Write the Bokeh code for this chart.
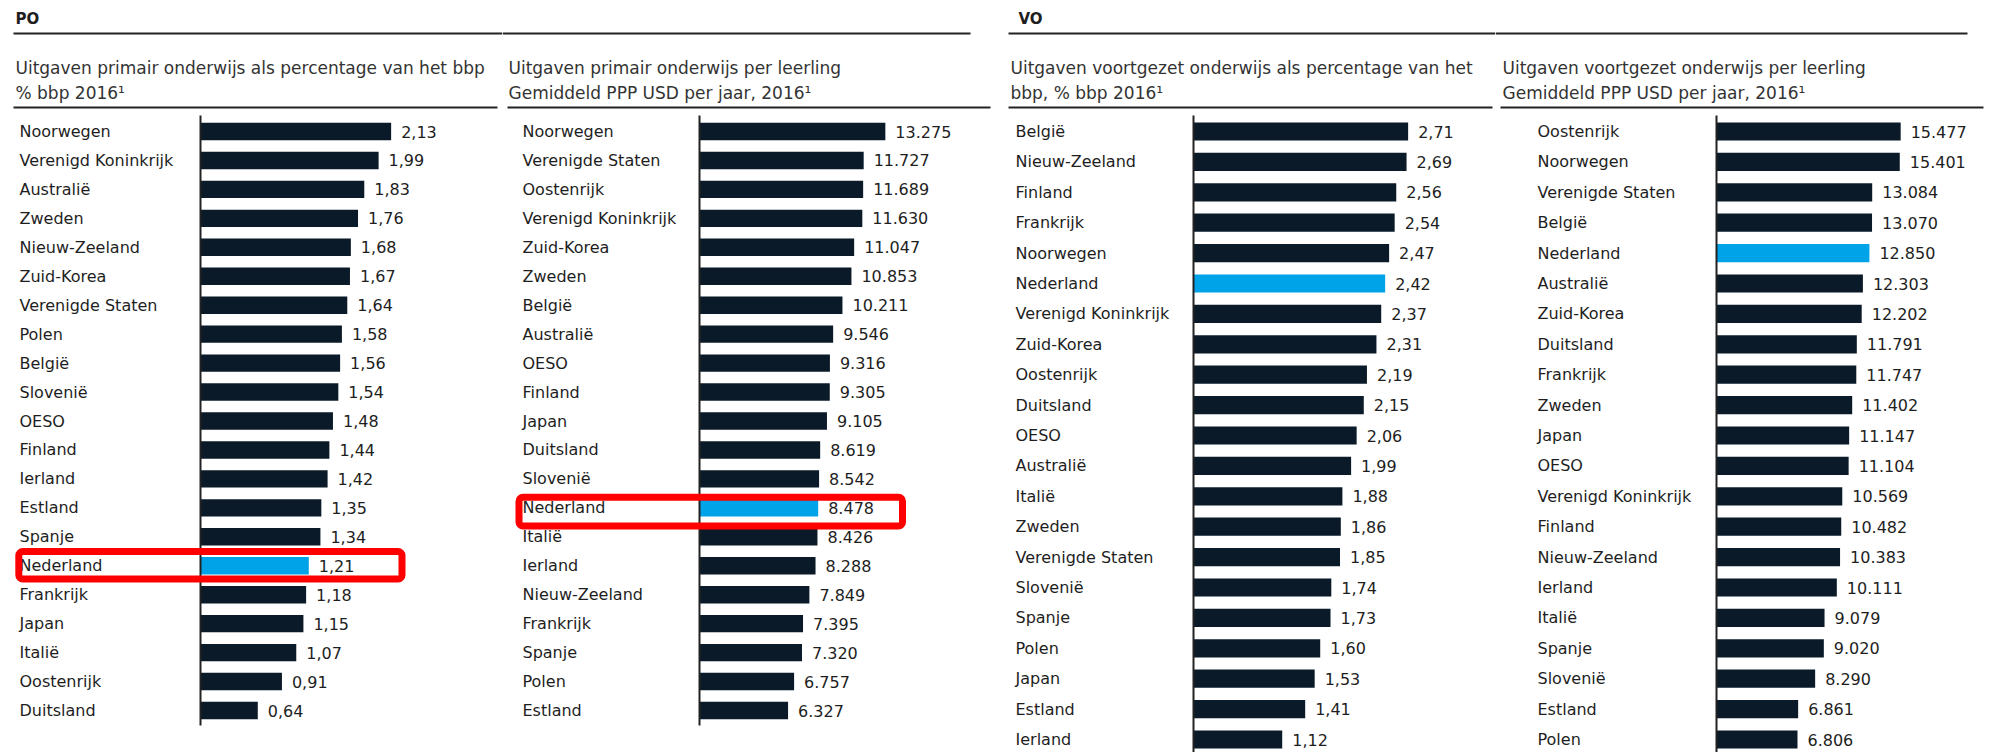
from bokeh.plotting import figure
from bokeh.models import Range1d, BoxAnnotation, ColumnDataSource
from bokeh.layouts import row
from bokeh.embed import file_html
from bokeh.resources import INLINE
from bokeh.core.properties import value

# ---------------- data ----------------
po_pct_countries = ["Noorwegen", "Verenigd Koninkrijk", "Australië", "Zweden", "Nieuw-Zeeland",
                    "Zuid-Korea", "Verenigde Staten", "Polen", "België", "Slovenië", "OESO",
                    "Finland", "Ierland", "Estland", "Spanje", "Nederland", "Frankrijk", "Japan",
                    "Italië", "Oostenrijk", "Duitsland"]
po_pct_values = [2.13, 1.99, 1.83, 1.76, 1.68, 1.67, 1.64, 1.58, 1.56, 1.54, 1.48,
                 1.44, 1.42, 1.35, 1.34, 1.21, 1.18, 1.15, 1.07, 0.91, 0.64]

po_usd_countries = ["Noorwegen", "Verenigde Staten", "Oostenrijk", "Verenigd Koninkrijk",
                    "Zuid-Korea", "Zweden", "België", "Australië", "OESO", "Finland", "Japan",
                    "Duitsland", "Slovenië", "Nederland", "Italië", "Ierland", "Nieuw-Zeeland",
                    "Frankrijk", "Spanje", "Polen", "Estland"]
po_usd_values = [13275, 11727, 11689, 11630, 11047, 10853, 10211, 9546, 9316, 9305, 9105,
                 8619, 8542, 8478, 8426, 8288, 7849, 7395, 7320, 6757, 6327]

vo_pct_countries = ["België", "Nieuw-Zeeland", "Finland", "Frankrijk", "Noorwegen", "Nederland",
                    "Verenigd Koninkrijk", "Zuid-Korea", "Oostenrijk", "Duitsland", "OESO",
                    "Australië", "Italië", "Zweden", "Verenigde Staten", "Slovenië", "Spanje",
                    "Polen", "Japan", "Estland", "Ierland"]
vo_pct_values = [2.71, 2.69, 2.56, 2.54, 2.47, 2.42, 2.37, 2.31, 2.19, 2.15, 2.06,
                 1.99, 1.88, 1.86, 1.85, 1.74, 1.73, 1.60, 1.53, 1.41, 1.12]

vo_usd_countries = ["Oostenrijk", "Noorwegen", "Verenigde Staten", "België", "Nederland",
                    "Australië", "Zuid-Korea", "Duitsland", "Frankrijk", "Zweden", "Japan", "OESO",
                    "Verenigd Koninkrijk", "Finland", "Nieuw-Zeeland", "Ierland", "Italië",
                    "Spanje", "Slovenië", "Estland", "Polen"]
vo_usd_values = [15477, 15401, 13084, 13070, 12850, 12303, 12202, 11791, 11747, 11402, 11147,
                 11104, 10569, 10482, 10383, 10111, 9079, 9020, 8290, 6861, 6806]

section_titles = ["PO", "VO"]
subtitles = [
    ["Uitgaven primair onderwijs als percentage van het bbp", "% bbp 2016¹"],
    ["Uitgaven primair onderwijs per leerling", "Gemiddeld PPP USD per jaar, 2016¹"],
    ["Uitgaven voortgezet onderwijs als percentage van het", "bbp, % bbp 2016¹"],
    ["Uitgaven voortgezet onderwijs per leerling", "Gemiddeld PPP USD per jaar, 2016¹"],
]
highlight = "Nederland"

# ---------------- style ----------------
H = 752
FONT = value("DejaVu Sans")
BAR = "#0B1A28"
BLUE = "#00A2E8"
TXT = "#1E1E1E"
SUB = "#333333"
RULE = "#222222"
RED = "#FF0000"


def fmt_pct(v):
    return f"{v:.2f}".replace(".", ",")


def fmt_usd(v):
    return f"{v:,}".replace(",", ".")


def build(width, countries, values, fmt, axis_px, scale, pitch, label_px, header,
          subtitle, sub_x, top_rule, sub_rule, axis_end, box=None, y0=131):
    # helpers converting panel pixel positions into the panel's data space
    def dx(px):
        return (px - axis_px) / scale

    def dy(py):
        return (py - y0) / pitch

    p = figure(width=width, height=H, output_backend="svg", toolbar_location=None,
               x_range=Range1d(dx(0), dx(width)), y_range=Range1d(dy(H), dy(0)),
               x_axis_location=None, y_axis_location=None, min_border=0,
               outline_line_color=None, background_fill_color="white",
               border_fill_color="white")
    p.grid.visible = False

    idx = list(range(len(countries)))
    src = ColumnDataSource(dict(
        y=idx, v=values, c=countries, t=[fmt(v) for v in values],
        col=[BLUE if c == highlight else BAR for c in countries]))

    p.hbar(y="y", left=0, right="v", height=0.6, fill_color="col", line_color=None, source=src)
    p.text(x=dx(label_px), y="y", text="c", source=src, text_align="left",
           text_baseline="middle", text_font=FONT, text_font_size="16px", text_color=TXT)
    p.text(x="v", y="y", text="t", source=src, x_offset=10, text_align="left",
           text_baseline="middle", text_font=FONT, text_font_size="16px", text_color=TXT)

    # vertical axis line
    p.segment(x0=0, x1=0, y0=dy(115), y1=dy(axis_end), line_color=RULE, line_width=2)
    # horizontal rules
    p.segment(x0=dx(top_rule[0]), x1=dx(top_rule[1]), y0=dy(33), y1=dy(33),
              line_color=RULE, line_width=2)
    p.segment(x0=dx(sub_rule[0]), x1=dx(sub_rule[1]), y0=dy(107), y1=dy(107),
              line_color=RULE, line_width=2)
    # section header
    if header:
        p.text(x=[dx(15)], y=[dy(18)], text=[header], text_align="left", text_baseline="middle",
               text_font=FONT, text_font_size="15px", text_font_style="bold", text_color=TXT)
    # subtitle (two lines)
    p.text(x=[dx(sub_x), dx(sub_x)], y=[dy(67), dy(92)], text=subtitle, text_align="left",
           text_baseline="middle", text_font=FONT, text_font_size="17px", text_color=SUB)
    # red highlight box
    if box is not None:
        l, r, t, b = box
        p.add_layout(BoxAnnotation(left=dx(l), right=dx(r), top=dy(t), bottom=dy(b),
                                   fill_alpha=0, line_color=RED, line_width=7,
                                   line_alpha=1, border_radius=4))
    return p


p1 = build(502, po_pct_countries, po_pct_values, fmt_pct, 200, 89.5, 28.95, 19,
           section_titles[0], subtitles[0], 15, (13, 502), (13, 497), 725,
           box=(18.3, 401.5, 551, 578.5))
p2 = build(501, po_usd_countries, po_usd_values, fmt_usd, 197, 0.0140, 28.95, 20,
           None, subtitles[1], 6, (0, 468), (5, 488), 725,
           box=(16.5, 400, 496.7, 525.5))
p3 = build(492, vo_pct_countries, vo_pct_values, fmt_pct, 190, 79.2, 30.4, 12,
           section_titles[1], subtitles[2], 7, (5, 492), (5, 489), 752)
p4 = build(500, vo_usd_countries, vo_usd_values, fmt_usd, 221, 0.0119, 30.4, 42,
           None, subtitles[3], 7, (0, 472), (5, 488), 752)

layout = row(p1, p2, p3, p4)
open("out.html", "w").write(file_html(layout, INLINE))
